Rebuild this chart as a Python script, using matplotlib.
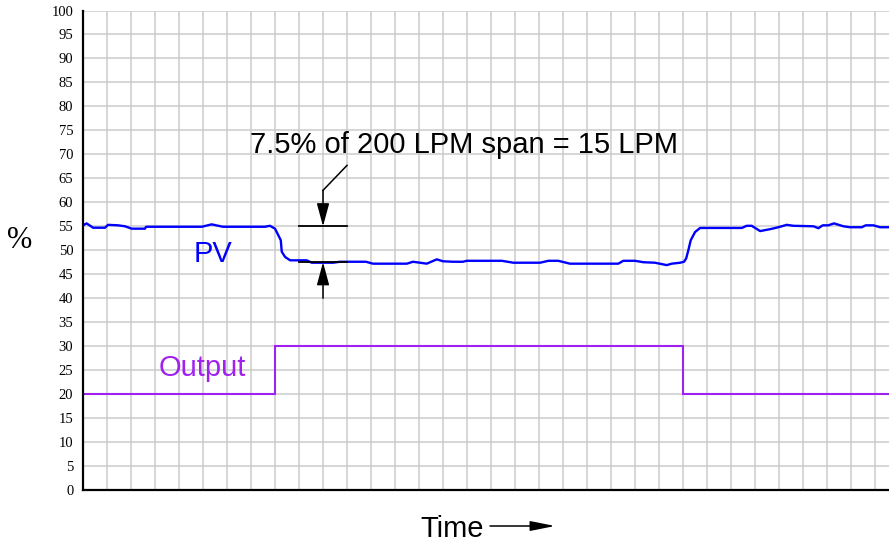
import matplotlib
matplotlib.use("Agg")
import matplotlib.pyplot as plt

# Time axis in chart-grid divisions
pv_time = [0.0, 0.15, 0.42, 0.92, 1.04, 1.46, 1.75, 2.03, 2.58, 2.63, 4.95, 5.36,
           5.83, 7.58, 7.79, 8.0, 8.14, 8.24, 8.28, 8.42, 8.63, 9.32, 9.53, 10.42,
           10.71, 11.79, 12.08, 13.49, 13.75, 14.04, 14.32, 14.74, 15.0, 15.42,
           15.83, 15.99, 17.45, 17.93, 19.04, 19.39, 19.8, 20.29, 22.3, 22.51,
           23.0, 23.35, 23.83, 24.32, 24.53, 24.88, 25.04, 25.13, 25.22, 25.32,
           25.5, 25.71, 27.45, 27.65, 27.86, 28.21, 28.63, 28.97, 29.32, 29.6,
           30.43, 30.64, 30.82, 31.05, 31.29, 31.68, 31.96, 32.45, 32.61, 32.93,
           33.21, 33.58]
pv_value = [55.2, 55.6, 54.7, 54.7, 55.3, 55.2, 55.0, 54.5, 54.5, 54.9, 54.9, 55.4,
            54.9, 54.9, 55.1, 54.5, 53.1, 52.1, 49.7, 48.6, 47.9, 47.9, 47.4, 47.4,
            47.6, 47.6, 47.2, 47.2, 47.6, 47.4, 47.2, 48.1, 47.7, 47.6,
            47.6, 47.8, 47.8, 47.4, 47.4, 47.8, 47.8, 47.2, 47.2, 47.8,
            47.8, 47.5, 47.4, 46.9, 47.2, 47.4, 47.6, 48.3, 50.0, 52.1,
            53.8, 54.65, 54.65, 55.1, 55.1, 54.0, 54.4, 54.8, 55.3, 55.1,
            55.0, 54.6, 55.2, 55.2, 55.6, 55.0, 54.8, 54.8, 55.2, 55.2,
            54.8, 54.8]

out_time = [0, 8, 25, 33.58]
out_value = [20, 30, 20, 20]

y_ticks = list(range(0, 101, 5))
x_end = 33.58

# Offset shown by the dimension marks
pv_before = 55.0
pv_after = 47.5
span_text = "7.5% of 200 LPM span = 15 LPM"

sans = ["Liberation Sans", "DejaVu Sans"]
serif = ["Liberation Serif", "DejaVu Serif"]

fig = plt.figure(figsize=(8.89, 5.44), dpi=100)
ax = fig.add_axes([83 / 889, 54 / 544, 806 / 889, 479.5 / 544])

ax.set_xlim(0, x_end)
ax.set_ylim(0, 100)
ax.set_xticks(range(0, 34))
ax.set_yticks(y_ticks)
ax.set_xticklabels([])
ax.set_yticklabels([str(v) for v in y_ticks], family=serif, fontsize=10.5)
ax.tick_params(axis="both", length=0)
ax.tick_params(axis="y", pad=7)
ax.grid(True, color="#cccccc", linewidth=1.1)
ax.set_axisbelow(True)

for side in ("top", "right"):
    ax.spines[side].set_visible(False)
for side in ("left", "bottom"):
    ax.spines[side].set_linewidth(1.6)
    ax.spines[side].set_color("black")

ax.plot(out_time, out_value, drawstyle="steps-post", color="#a020f0",
        linewidth=1.5, solid_joinstyle="miter", clip_on=True)
ax.plot(pv_time, pv_value, color="#0000ff", linewidth=1.7)

ax.text(5.42, 47.6, "PV", color="#0000ff", family=sans, fontsize=21,
        ha="center", va="baseline")
ax.text(4.96, 23.75, "Output", color="#a020f0", family=sans, fontsize=21,
        ha="center", va="baseline")

# Dimension marks for the offset
ax.plot([9, 11], [pv_before, pv_before], color="black", linewidth=1.3)
ax.plot([9, 11], [pv_after, pv_after], color="black", linewidth=1.3)
ax.plot([11, 10], [67.7, 62.5], color="black", linewidth=1.1)
arrow_style = "-|>,head_length=1.4,head_width=0.38"
ax.annotate("", xy=(10, pv_before), xytext=(10, 62.5),
            arrowprops=dict(arrowstyle=arrow_style, color="black", lw=1.1,
                            shrinkA=0, shrinkB=0, mutation_scale=10))
ax.annotate("", xy=(10, pv_after), xytext=(10, 40.0),
            arrowprops=dict(arrowstyle=arrow_style, color="black", lw=1.1,
                            shrinkA=0, shrinkB=0, mutation_scale=10))
ax.text(6.95, 70.2, span_text, family=sans, fontsize=21, ha="left",
        va="baseline", color="black")

# Axis labels
fig.text(20 / 889, 1 - 241 / 544, "%", family=serif, fontsize=22,
         ha="center", va="center")
fig.text(420 / 889, 1 - 537.3 / 544, "Time", family=sans, fontsize=21,
         ha="left", va="baseline")
fig.add_artist(matplotlib.patches.FancyArrowPatch(
    (490 / 889, 1 - 526 / 544), (555 / 889, 1 - 526 / 544),
    transform=fig.transFigure, arrowstyle="-|>,head_length=1.5,head_width=0.3",
    mutation_scale=10, color="black", lw=1.1, shrinkA=0, shrinkB=0))

fig.savefig("out.png", dpi=100)
